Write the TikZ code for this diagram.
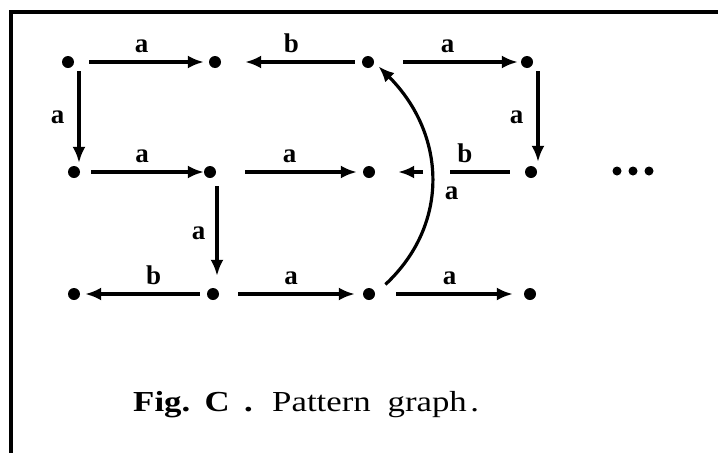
\documentclass[tikz,border=0pt]{standalone}
\usepackage{fontspec}
\usetikzlibrary{arrows.meta}
\newfontfamily\labfont{Liberation Serif}

\begin{document}
\begin{tikzpicture}[x=1pt, y=-1pt, >={Latex[length=16pt, width=13pt]},
	dot/.style={circle, fill, inner sep=0pt, minimum size=12pt},
	edge/.style={->, line width=3.2pt, shorten <=15pt, shorten >=5pt},
	lab/.style={font=\labfont\bfseries\fontsize{27}{27}\selectfont, inner sep=0pt},
	capt/.style={font=\labfont\fontsize{29}{29}\selectfont, inner sep=0pt, anchor=base west, xscale=1.2, transform shape}]
	\useasboundingbox (0,0) rectangle (718,453);
	\draw[line width=4pt] (718,12) -- (11,12) -- (11,453);
	% the pattern graph
	\node[dot] (n11) at (68,62) {};
	\node[dot] (n12) at (215,62) {};
	\node[dot] (n13) at (368,62) {};
	\node[dot] (n14) at (527,62) {};
	\node[dot] (n21) at (74,172) {};
	\node[dot] (n22) at (210,172) {};
	\node[dot] (n23) at (369,172) {};
	\node[dot] (n24) at (531,172) {};
	\node[dot] (n31) at (74,294) {};
	\node[dot] (n32) at (213,294) {};
	\node[dot] (n33) at (369,294) {};
	\node[dot] (n34) at (530,294) {};
	\foreach \x in {617,633,649} {\fill (\x,171) circle (4.5pt);}
	\draw[edge] (n11) -- node[lab, above=8pt] {a} (n12);
	\draw[edge, shorten <=7pt, shorten >=24pt] (n13) -- node[lab, above=8pt] {b} (n12);
	\draw[edge, shorten <=29pt, shorten >=3pt] (n13) -- node[lab, above=8pt] {a} (n14);
	\draw[edge, shorten <=3pt, shorten >=3pt] ([xshift=11pt]n11.south) -- node[lab, left=13pt] {a} ([xshift=5pt]n21.north);
	\draw[edge, shorten <=3pt, shorten >=4pt] ([xshift=11pt]n14.south) -- node[lab, left=13pt] {a} ([xshift=7pt]n24.north);
	\draw[edge, shorten <=11pt, shorten >=0pt] (n21) -- node[lab, above=8pt] {a} (n22);
	\draw[edge, shorten <=29pt, shorten >=6pt] (n22) -- node[lab, above=8pt] {a} (n23);
	\coordinate (bR) at (450,172);
	\coordinate (bL) at (423,172);
	\draw[line width=3.2pt, shorten <=15pt] (n24) -- node[lab, above=8pt, pos=0.8] {b} (bR);
	\draw[edge, shorten <=0pt, shorten >=23pt] (bL) -- (n23);
	\draw[edge, shorten <=8pt, shorten >=12pt] ([xshift=7pt]n22.south) -- node[lab, left=10pt] {a} ([xshift=4pt]n32.north);
	\draw[edge, shorten <=7pt, shorten >=5pt] (n32) -- node[lab, above=8pt, pos=0.42] {b} (n31);
	\draw[edge, shorten <=19pt, shorten >=8pt] (n32) -- node[lab, above=8pt] {a} (n33);
	\draw[edge, shorten <=21pt, shorten >=11pt] (n33) -- node[lab, above=8pt] {a} (n34);
	\draw[edge, shorten <=14pt, shorten >=6pt] (n33.east) .. controls +(75,-70) and +(72,72) .. node[lab, pos=0.44, right=14pt] {a} (n13.east);
	% caption
	\node[capt] (fig) at (133,411) {\bfseries Fig.\hspace{12pt}C\hspace{12pt}.};
	\node[capt] (cap) at (272,411) {Pattern\hspace{14pt}graph\hspace{3pt}.};
\end{tikzpicture}
\end{document}
